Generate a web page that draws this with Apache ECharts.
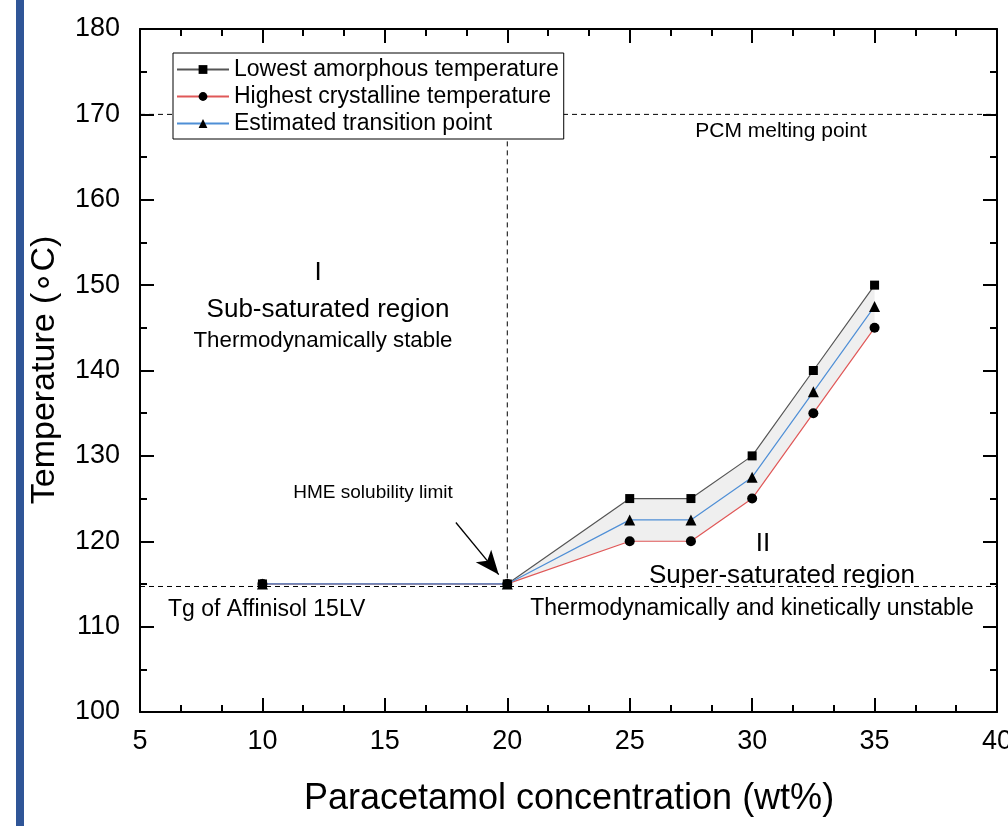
<!DOCTYPE html>
<html>
<head>
<meta charset="utf-8">
<style>html,body{margin:0;padding:0;background:#fff;}#chart{width:1008px;height:826px;}</style>
<script src="https://cdn.jsdelivr.net/npm/echarts@6/dist/echarts.min.js"></script>
</head>
<body>
<div id="chart"></div>
<script>
// ---- data ----
const concentration = [10, 20, 25, 27.5, 30, 32.5, 35];
const lowestAmorphous = [115, 115, 125, 125, 130, 140, 150];
const highestCrystalline = [115, 115, 120, 120, 125, 135, 145];
const estimatedTransition = [115, 115, 122.5, 122.5, 127.5, 137.5, 147.5];
const seriesNames = ['Lowest amorphous temperature', 'Highest crystalline temperature', 'Estimated transition point'];
const xTicks = [5, 10, 15, 20, 25, 30, 35, 40];
const yTicks = [100, 110, 120, 130, 140, 150, 160, 170, 180];
const pcmMelting = 170;
const tgAffinisol = 114.7;
const solubilityLimit = 20;
const arrowFrom = [17.9, 122.2];
const arrowTo = [19.65, 116.1];

const FONT = 'Arial, "Liberation Sans", sans-serif';
const chart = echarts.init(document.getElementById('chart'));

function pair(a, b) { return a.map((v, i) => [v, b[i]]); }

const axisCommon = {
  type: 'value',
  axisLine: { show: true, onZero: false, lineStyle: { color: '#000', width: 2 } },
  axisTick: { show: true, inside: true, length: 14, lineStyle: { color: '#000', width: 2 } },
  minorTick: { show: true, length: 7, lineStyle: { color: '#000', width: 2 } },
  splitLine: { show: false },
  minorSplitLine: { show: false }
};

const option = {
  backgroundColor: '#fff',
  animation: false,
  grid: { left: 140, right: 11, top: 29, bottom: 114, outerBoundsMode: 'none', containLabel: false },
  xAxis: [
    Object.assign({}, axisCommon, {
      position: 'bottom', min: xTicks[0], max: xTicks[xTicks.length - 1], interval: 5,
      minorTick: Object.assign({}, axisCommon.minorTick, { splitNumber: 3 }),
      axisLabel: { show: true, color: '#000', fontSize: 27, fontFamily: FONT, margin: 16 }
    }),
    Object.assign({}, axisCommon, {
      position: 'top', min: xTicks[0], max: xTicks[xTicks.length - 1], interval: 5,
      minorTick: Object.assign({}, axisCommon.minorTick, { splitNumber: 3 }),
      axisLabel: { show: false }
    })
  ],
  yAxis: [
    Object.assign({}, axisCommon, {
      position: 'left', min: yTicks[0], max: yTicks[yTicks.length - 1], interval: 10,
      minorTick: Object.assign({}, axisCommon.minorTick, { splitNumber: 2 }),
      axisLabel: { show: true, color: '#000', fontSize: 27, fontFamily: FONT, margin: 20 }
    }),
    Object.assign({}, axisCommon, {
      position: 'right', min: yTicks[0], max: yTicks[yTicks.length - 1], interval: 10,
      minorTick: Object.assign({}, axisCommon.minorTick, { splitNumber: 2 }),
      axisLabel: { show: false }
    })
  ],
  legend: {
    data: seriesNames,
    orient: 'vertical',
    left: 173, top: 53,
    backgroundColor: '#fff',
    borderColor: '#000', borderWidth: 1,
    padding: [5, 5, 4, 3],
    itemWidth: 52, itemHeight: 11, itemGap: 4,
    textStyle: { fontSize: 23, fontFamily: FONT, color: '#000' },
    z: 20
  },
  graphic: [
    { type: 'rect', left: 16, top: 0, shape: { width: 8, height: 826 }, style: { fill: '#2f5597' } },
    { type: 'text', x: 45, y: 370, rotation: Math.PI / 2, style: { text: 'Temperature (∘C)', font: '34px ' + FONT, fill: '#000', textAlign: 'center', textVerticalAlign: 'middle' } },
    { type: 'text', x: 569, y: 799, style: { text: 'Paracetamol concentration (wt%)', font: '36px ' + FONT, fill: '#000', textAlign: 'center', textVerticalAlign: 'middle' } },
    { type: 'text', x: 318, y: 273, style: { text: 'I', font: '26px ' + FONT, fill: '#000', textAlign: 'center', textVerticalAlign: 'middle' } },
    { type: 'text', x: 328, y: 310, style: { text: 'Sub-saturated region', font: '26px ' + FONT, fill: '#000', textAlign: 'center', textVerticalAlign: 'middle' } },
    { type: 'text', x: 323, y: 341, style: { text: 'Thermodynamically stable', font: '22.3px ' + FONT, fill: '#000', textAlign: 'center', textVerticalAlign: 'middle' } },
    { type: 'text', x: 781, y: 131, style: { text: 'PCM melting point', font: '21px ' + FONT, fill: '#000', textAlign: 'center', textVerticalAlign: 'middle' } },
    { type: 'text', x: 373, y: 493, style: { text: 'HME solubility limit', font: '19px ' + FONT, fill: '#000', textAlign: 'center', textVerticalAlign: 'middle' } },
    { type: 'text', x: 168, y: 610, style: { text: 'Tg of Affinisol 15LV', font: '23px ' + FONT, fill: '#000', textAlign: 'left', textVerticalAlign: 'middle' } },
    { type: 'text', x: 763, y: 544, style: { text: 'II', font: '26px ' + FONT, fill: '#000', textAlign: 'center', textVerticalAlign: 'middle' } },
    { type: 'text', x: 782, y: 576, style: { text: 'Super-saturated region', font: '26px ' + FONT, fill: '#000', textAlign: 'center', textVerticalAlign: 'middle' } },
    { type: 'text', x: 752, y: 609, style: { text: 'Thermodynamically and kinetically unstable', font: '23px ' + FONT, fill: '#000', textAlign: 'center', textVerticalAlign: 'middle' } }
  ],
  series: [
    {
      type: 'custom', name: 'band', silent: true, z: 1,
      data: [[0]],
      renderItem: function (params, api) {
        const pts = [];
        concentration.forEach((x, i) => pts.push(api.coord([x, lowestAmorphous[i]])));
        for (let i = concentration.length - 1; i >= 0; i--) pts.push(api.coord([concentration[i], highestCrystalline[i]]));
        return { type: 'polygon', shape: { points: pts }, style: { fill: '#efefef', stroke: null } };
      }
    },
    {
      type: 'line', name: 'pcm', symbol: 'none', silent: true, z: 2,
      data: [[xTicks[0], pcmMelting], [xTicks[xTicks.length - 1], pcmMelting]],
      lineStyle: { color: '#000', width: 1, type: [5, 4] }
    },
    {
      type: 'line', name: 'tg', symbol: 'none', silent: true, z: 2,
      data: [[xTicks[0], tgAffinisol], [xTicks[xTicks.length - 1], tgAffinisol]],
      lineStyle: { color: '#000', width: 1, type: [5, 4] }
    },
    {
      type: 'line', name: 'limit', symbol: 'none', silent: true, z: 2,
      data: [[solubilityLimit, pcmMelting], [solubilityLimit, tgAffinisol]],
      lineStyle: { color: '#000', width: 1, type: [5, 4] },
      markLine: {
        silent: true, symbol: ['none', 'arrow'], symbolSize: [15, 24],
        label: { show: false },
        lineStyle: { color: '#000', width: 1.3, type: 'solid' },
        data: [[{ coord: arrowFrom }, { coord: arrowTo }]]
      }
    },
    {
      type: 'line', name: seriesNames[0], data: pair(concentration, lowestAmorphous),
      symbol: 'rect', symbolSize: 9, z: 5,
      itemStyle: { color: '#000' }, lineStyle: { color: '#555', width: 1.2 }
    },
    {
      type: 'line', name: seriesNames[1], data: pair(concentration, highestCrystalline),
      symbol: 'circle', symbolSize: 10, z: 5,
      itemStyle: { color: '#000' }, lineStyle: { color: '#e05858', width: 1.2 }
    },
    {
      type: 'line', name: seriesNames[2], data: pair(concentration, estimatedTransition),
      symbol: 'triangle', symbolSize: 11, z: 5,
      itemStyle: { color: '#000' }, lineStyle: { color: '#4f8fd6', width: 1.2 }
    }
  ]
};
chart.setOption(option);
</script>
</body>
</html>
